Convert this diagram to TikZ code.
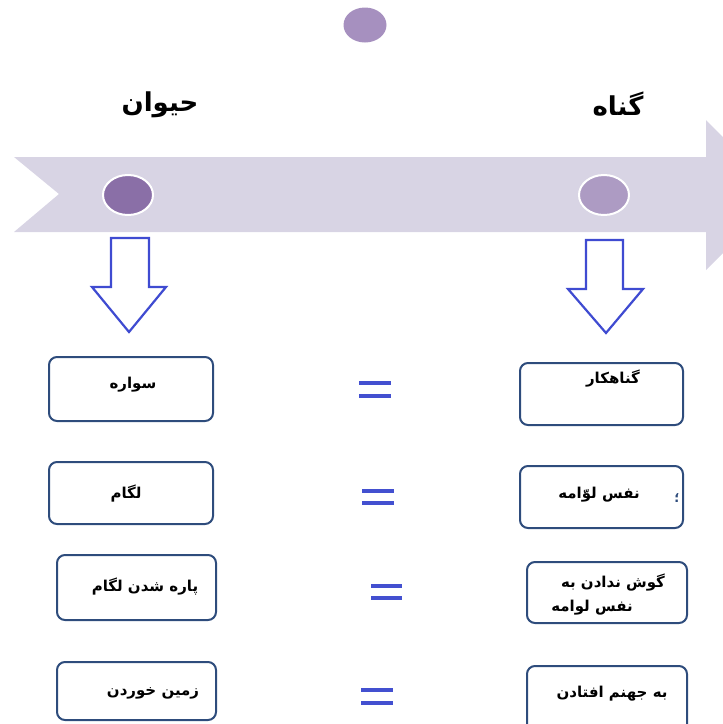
\documentclass[tikz,border=0pt]{standalone}
\usepackage{fontspec}
\newfontfamily\fa[Script=Arabic]{DejaVu Sans}
\TeXXeTstate=1
\definecolor{band}{HTML}{D8D4E4}
\definecolor{pdark}{HTML}{8A6FA7}
\definecolor{plight}{HTML}{AD9BC3}
\definecolor{ptop}{HTML}{A690BF}
\definecolor{arrblue}{HTML}{3F4BD1}
\definecolor{eqblue}{HTML}{4350D0}
\definecolor{boxblue}{HTML}{2E4C7C}
\tikzset{
  cbox/.style={draw=boxblue, line width=2pt, rounded corners=8pt},
  downarr/.style={draw=arrblue, line width=2.2pt, line join=miter, fill=white},
  eqbar/.style={draw=eqblue, line width=4pt},
  btext/.style={font=\fa\bfseries\fontsize{15}{18}\selectfont, inner sep=0pt, text=black},
  htext/.style={font=\fa\bfseries\fontsize{26}{30}\selectfont, inner sep=0pt, text=black},
  dot/.style={draw=white, line width=2pt}
}
\newcommand{\rtl}[1]{\beginR #1\endR}
\begin{document}
\begin{tikzpicture}[x=1pt,y=-1pt]
\useasboundingbox (0,0) rectangle (723,724);
\clip (0,0) rectangle (723,724);
% top circle
\fill[ptop] (365,25) ellipse [x radius=21.5, y radius=17.5];
% band arrow
\fill[band] (14,157) -- (706,157) -- (706,120) -- (781,195) -- (706,270) -- (706,232) -- (14,232) -- (59,194) -- cycle;
% circles on band
\filldraw[dot, fill=pdark] (128,195) ellipse [x radius=25, y radius=20];
\filldraw[dot, fill=plight] (604,195) ellipse [x radius=25, y radius=20];
% headings
\node[htext] (hl) at (160,105) {\rtl{حیوان}};
\node[htext] (hr) at (618,104) {\rtl{گناه}};
% down arrows
\draw[downarr] (111,238) -- (149,238) -- (149,287) -- (166,287) -- (129,332) -- (92,287) -- (111,287) -- cycle;
\draw[downarr] (586,240) -- (623,240) -- (623,289) -- (643,289) -- (606,333) -- (568,289) -- (586,289) -- cycle;
% left boxes
\node[cbox, minimum width=164pt, minimum height=64pt] (l1) at (131,389) {};
\node[cbox, minimum width=164pt, minimum height=62pt] (l2) at (131,493) {};
\node[cbox, minimum width=159pt, minimum height=65pt] (l3) at (136.5,587.5) {};
\node[cbox, minimum width=159pt, minimum height=58pt] (l4) at (136.5,691) {};
% right boxes
\node[cbox, minimum width=163pt, minimum height=62pt] (r1) at (601.5,394) {};
\node[cbox, minimum width=163pt, minimum height=62pt] (r2) at (601.5,497) {};
\node[cbox, minimum width=160pt, minimum height=61pt] (r3) at (607,592.5) {};
\node[cbox, minimum width=160pt, minimum height=80pt] (r4) at (607,706) {};
% texts left
\node[btext] (t1) at (133,385) {\rtl{سواره}};
\node[btext] (t2) at (126,494) {\rtl{لگام}};
\node[btext] (t3) at (145,587) {\rtl{پاره شدن لگام}};
\node[btext] (t4) at (153,693) {\rtl{زمین خوردن}};
% texts right
\node[btext] (s1) at (613,379) {\rtl{گناهکار}};
\node[btext] (s2) at (599,495) {\rtl{نفس لوّامه}};
\node[font=\fa\bfseries\fontsize{13}{15}\selectfont, inner sep=0pt, text=boxblue] (s2b) at (677,498) {\rtl{؛}};
\node[btext] (s3a) at (613,583) {\rtl{گوش ندادن به}};
\node[btext] (s3b) at (592,608) {\rtl{نفس لوامه}};
\node[btext] (s4) at (612,694) {\rtl{به جهنم افتادن}};
% equals signs
\draw[eqbar] (359,383) -- (391,383); \draw[eqbar] (359,396) -- (391,396);
\draw[eqbar] (362,491) -- (394,491); \draw[eqbar] (362,503) -- (394,503);
\draw[eqbar] (371,586) -- (402,586); \draw[eqbar] (371,598) -- (402,598);
\draw[eqbar] (361,690) -- (393,690); \draw[eqbar] (361,703) -- (393,703);
\end{tikzpicture}
\end{document}
